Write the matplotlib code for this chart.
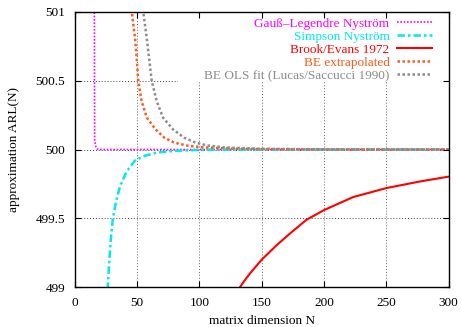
# ARL approximations versus matrix dimension N
import numpy as np
import matplotlib
matplotlib.use("Agg")
import matplotlib.pyplot as plt
from matplotlib.patches import Rectangle

# Gauss-Legendre Nystrom
n_gl = [15, 16, 17, 18, 19, 20, 25, 50, 100, 150, 200, 250, 300]
arl_gl = [505.0, 500.07, 500.02, 500.005, 500.0, 500.0, 500.0, 500.0, 500.0, 500.0, 500.0, 500.0, 500.0]

# Simpson Nystrom
n_simp = [25, 26.5, 27.5, 28.9, 30.5, 32.9, 36.3, 41.7, 48.4, 56.4, 67, 80.5, 100, 120, 150, 200, 250, 300]
arl_simp = [498.75, 499.0, 499.15, 499.34, 499.49, 499.61, 499.73, 499.84, 499.92, 499.955,
            499.98, 499.99, 499.997, 499.999, 500.0, 500.0, 500.0, 500.0]

# Brook/Evans Markov chain
n_be = [130, 132.6, 136, 140.6, 150, 162, 172.7, 186, 200, 223.5, 250, 277, 300]
arl_be = [498.965, 499.0, 499.045, 499.10, 499.20, 499.305, 499.39, 499.49, 499.56, 499.655,
          499.72, 499.768, 499.803]

# BE extrapolated
n_bex = [45, 45.8, 48.4, 49.7, 51, 53.7, 58, 65, 72, 80, 91, 104, 125, 150, 200, 250, 300]
arl_bex = [501.1, 501.0, 500.81, 500.67, 500.5, 500.35, 500.23, 500.145, 500.085, 500.05,
           500.027, 500.015, 500.007, 500.003, 500.0, 500.0, 500.0]

# BE OLS fit
n_ols = [54, 55, 57.8, 59.6, 61.8, 65.8, 71, 79, 88, 97, 106, 120, 150, 200, 250, 300]
arl_ols = [501.1, 501.0, 500.81, 500.67, 500.5, 500.35, 500.23, 500.145, 500.085, 500.05,
           500.03, 500.015, 500.005, 500.001, 500.0, 500.0]

xticks = [0, 50, 100, 150, 200, 250, 300]
yticks = [499, 499.5, 500, 500.5, 501]
ytick_labels = ["499", "499.5", "500", "500.5", "501"]

plt.rcParams['font.family'] = ['Liberation Serif', 'DejaVu Serif']
plt.rcParams['font.size'] = 9.5

fig = plt.figure(figsize=(4.61, 3.27), dpi=100)
ax = fig.add_axes([0.162, 0.1214, 0.811, 0.8428])

# dotted grid behind everything
for x in xticks[1:-1]:
    ax.axvline(x, color='#666666', lw=0.7, ls=(0, (1, 2)), zorder=0.5)
for y in yticks[1:-1]:
    ax.axhline(y, color='#444444', lw=0.7, ls=(0, (1, 2)), zorder=0.5)

ax.plot(n_gl, arl_gl, color='#ff00ff', lw=1.2, ls=(0, (1, 1)), label='Gauß–Legendre Nyström')
ax.plot(n_simp, arl_simp, color='#00e8f0', lw=1.8, ls=(0, (3, 1.2, 1, 1.2)), label='Simpson Nyström')
ax.plot(n_be, arl_be, color='#ff0000', lw=1.5, label='Brook/Evans 1972')
ax.plot(n_bex, arl_bex, color='#ff5a1e', lw=1.8, ls=(0, (1, 1)), label='BE extrapolated')
ax.plot(n_ols, arl_ols, color='#8c8c8c', lw=1.8, ls=(0, (1, 1)), label='BE OLS fit (Lucas/Saccucci 1990)')

ax.set_xlim(0, 300)
ax.set_ylim(499, 501)
ax.set_xticks(xticks)
ax.set_yticks(yticks)
ax.set_yticklabels(ytick_labels)
ax.tick_params(direction='in', top=True, right=True, length=4, width=0.8, pad=7)
ax.set_axisbelow(False)
for s in ax.spines.values():
    s.set_linewidth(1.0)

ax.set_xlabel('matrix dimension N', labelpad=4)
ax.set_ylabel('approximation ARL(N)', labelpad=11)

# opaque key box
ax.add_patch(Rectangle((0.276, 0.745), 0.724, 0.255, transform=ax.transAxes,
                       facecolor='white', edgecolor='none', zorder=2.1))
leg = ax.legend(loc='upper right', bbox_to_anchor=(0.955, 0.978), markerfirst=False,
                frameon=False, labelcolor='linecolor', handlelength=2.6, handletextpad=0.6,
                labelspacing=0.06, borderpad=0, borderaxespad=0)
leg.set_zorder(2.2)

fig.savefig('out.png', dpi=100)
